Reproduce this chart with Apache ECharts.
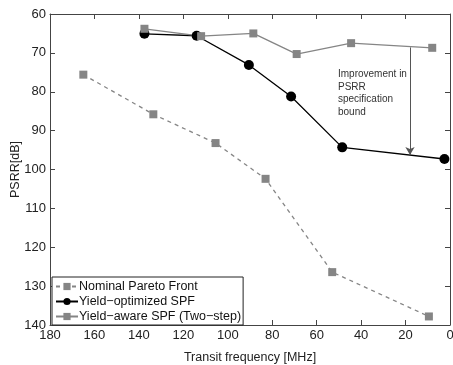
<!DOCTYPE html>
<html>
<head>
<meta charset="utf-8">
<script src="https://cdn.jsdelivr.net/npm/echarts@6/dist/echarts.min.js"></script>
<style>
  html, body { margin: 0; padding: 0; background: #fff; }
  #main { width: 453px; height: 365px; }
</style>
</head>
<body>
<div id="main"></div>
<script>
// data: [transit frequency MHz, PSRR dB]
var nominalPareto = [[165, 75.6], [133.5, 85.8], [105.5, 93.2], [83, 102.4], [53, 126.4], [9.5, 137.8]];
var yieldOptimized = [[137.5, 65.1], [114, 65.6], [90.5, 73.1], [71.5, 81.2], [48.5, 94.3], [2.5, 97.3]];
var yieldAware = [[137.5, 63.8], [112, 65.7], [88.5, 65.0], [69, 70.3], [44.5, 67.5], [8, 68.7]];
var arrowLine = [[18, 68.6], [18, 96.3]];

var xTicks = [0, 20, 40, 60, 80, 100, 120, 140, 160, 180];
var yTicks = [60, 70, 80, 90, 100, 110, 120, 130, 140];

var axisColor = '#444';
var grayColor = '#858585';
var fontFam = '"Liberation Sans", Arial, sans-serif';

var myChart = echarts.init(document.getElementById('main'));

var baseX = {
    type: 'value',
    min: xTicks[0], max: xTicks[xTicks.length - 1], interval: 20,
    inverse: true,
    axisLine: { show: true, onZero: false, lineStyle: { color: axisColor, width: 1 } },
    axisTick: { show: true, inside: true, length: 5, lineStyle: { color: axisColor } },
    splitLine: { show: false }
};
var baseY = {
    type: 'value',
    min: yTicks[0], max: yTicks[yTicks.length - 1], interval: 10,
    inverse: true,
    axisLine: { show: true, onZero: false, lineStyle: { color: axisColor, width: 1 } },
    axisTick: { show: true, inside: true, length: 5, lineStyle: { color: axisColor } },
    splitLine: { show: false }
};

myChart.setOption({
    animation: false,
    backgroundColor: '#fff',
    textStyle: { fontFamily: fontFam },
    grid: { left: 50, right: 3, top: 14, bottom: 40, outerBoundsMode: 'none', containLabel: false },
    xAxis: [
        Object.assign({}, baseX, {
            position: 'bottom',
            name: 'Transit frequency [MHz]',
            nameLocation: 'middle',
            nameGap: 26,
            nameTextStyle: { fontSize: 12.5, color: '#222', fontFamily: fontFam },
            axisLabel: { fontSize: 13, color: '#222', margin: 4, fontFamily: fontFam }
        }),
        Object.assign({}, baseX, { position: 'top', axisLabel: { show: false } })
    ],
    yAxis: [
        Object.assign({}, baseY, {
            position: 'left',
            name: 'PSRR[dB]',
            nameLocation: 'middle',
            nameGap: 28,
            nameMoveOverlap: false,
            nameTextStyle: { fontSize: 12.5, color: '#222', fontFamily: fontFam },
            axisLabel: { fontSize: 13, color: '#222', margin: 4, fontFamily: fontFam }
        }),
        Object.assign({}, baseY, { position: 'right', axisLabel: { show: false } })
    ],
    legend: {
        orient: 'vertical',
        left: 52, top: 277,
        padding: [3, 2, 2, 3],
        itemGap: 2,
        itemWidth: 22, itemHeight: 9,
        backgroundColor: '#fff',
        borderColor: '#222', borderWidth: 1,
        textStyle: { fontSize: 12.5, color: '#111', fontFamily: fontFam, padding: [0, 0, 0, -4] },
        data: ['Nominal Pareto Front', 'Yield\u2212optimized SPF', 'Yield\u2212aware SPF (Two\u2212step)']
    },
    graphic: [{
        type: 'text',
        left: 338, top: 68,
        style: {
            text: 'Improvement in\nPSRR\nspecification\nbound',
            fontSize: 10, lineHeight: 12.5,
            fill: '#333', fontFamily: fontFam
        }
    }],
    series: [
        {
            name: 'Nominal Pareto Front',
            type: 'line',
            data: nominalPareto,
            symbol: 'rect', symbolSize: 8,
            itemStyle: { color: grayColor },
            lineStyle: { color: grayColor, width: 1.3, type: [4, 4] }
        },
        {
            name: 'Yield\u2212optimized SPF',
            type: 'line',
            data: yieldOptimized,
            symbol: 'circle', symbolSize: 10,
            z: 3,
            itemStyle: { color: '#000' },
            lineStyle: { color: '#000', width: 1.3 }
        },
        {
            name: 'Yield\u2212aware SPF (Two\u2212step)',
            type: 'line',
            data: yieldAware,
            symbol: 'rect', symbolSize: 8,
            itemStyle: { color: grayColor },
            lineStyle: { color: grayColor, width: 1.3 },
            markLine: {
                silent: true,
                symbol: ['none', 'arrow'],
                symbolSize: [7, 8],
                label: { show: false },
                lineStyle: { color: '#555', width: 1, type: 'solid' },
                data: [[{ coord: arrowLine[0] }, { coord: arrowLine[1] }]]
            }
        }
    ]
});
</script>
</body>
</html>
